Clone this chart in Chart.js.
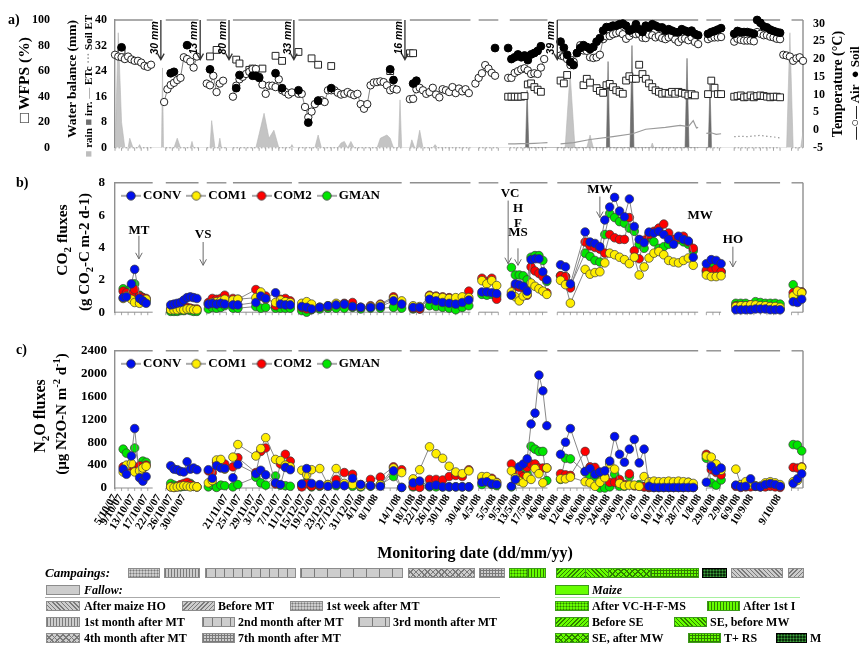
<!DOCTYPE html>
<html>
<head>
<meta charset="utf-8">
<title>WFPS, temperature, CO2 and N2O fluxes</title>
<script src="https://cdn.jsdelivr.net/npm/chart.js@4.4.1/dist/chart.umd.min.js"></script>
<style>
  body { margin: 0; background: #fff; }
  #fig { position: relative; width: 860px; height: 646px; overflow: hidden;
         font-family: 'Liberation Serif', 'Times New Roman', serif; font-weight: bold; color: #000; }
  #fig canvas { position: absolute; left: 0; }
  .t { position: absolute; white-space: nowrap; line-height: 1; }
  .r { transform: translate(-50%, -50%) rotate(-90deg); }
  .t sub, .t sup { font-size: 70%; line-height: 0; }
  .sw { position: absolute; height: 10px; box-sizing: border-box; border: 1px solid #8c8c8c; }
  .lg { position: absolute; font-size: 12px; line-height: 12px; white-space: nowrap; }
  .gr { background-color: #cdcdcd; --p: #7a7a7a; }
  .mz { background-color: #66ff00; border-color: #3c9a1a; --p: #2f7f00; }
  .mk { background-color: #0b2e0b; border-color: #000; --p: #3fa33f; }
  .dots { background-image: radial-gradient(circle, var(--p) 0.8px, transparent 1.2px); background-size: 3px 3px; }
  .vl  { background-image: repeating-linear-gradient(90deg, var(--p) 0 1px, transparent 1px 3px); }
  .v9  { background-image: repeating-linear-gradient(90deg, var(--p) 0 1px, transparent 1px 9px); }
  .v13 { background-image: repeating-linear-gradient(90deg, var(--p) 0 1px, transparent 1px 13px); }
  .xx  { background-image: repeating-linear-gradient(45deg, var(--p) 0 1px, transparent 1px 4px),
                           repeating-linear-gradient(-45deg, var(--p) 0 1px, transparent 1px 4px); }
  .gd  { background-image: repeating-linear-gradient(90deg, var(--p) 0 1px, transparent 1px 3px),
                           repeating-linear-gradient(0deg, var(--p) 0 1px, transparent 1px 3px); }
  .bk  { background-image: repeating-linear-gradient(45deg, var(--p) 0 1px, transparent 1px 3px); }
  .fw  { background-image: repeating-linear-gradient(-45deg, var(--p) 0 1px, transparent 1px 3px); }
</style>
</head>
<body>
<div id="fig">
  <canvas id="chartA" width="860" height="165" style="top:0"></canvas>
  <canvas id="chartB" width="860" height="165" style="top:165px"></canvas>
  <canvas id="chartC" width="860" height="240" style="top:335px"></canvas>

  <!-- panel letters and axis titles -->
  <div class="t" style="left:8px;top:13px;font-size:14px">a)</div>
  <div class="t" style="left:16px;top:176px;font-size:14px">b)</div>
  <div class="t" style="left:16px;top:343px;font-size:14px">c)</div>

  <div class="t r" style="left:24px;top:80px;font-size:15.5px">□ WFPS (%)</div>
  <div class="t r" style="left:72px;top:79px;font-size:13.5px">Water balance (mm)</div>
  <div class="t r" style="left:88px;top:86px;font-size:11px"><span style="color:#bdbdbd">■</span> rain <span style="color:#6f6f6f">■</span> irr. <span style="color:#999">—</span> ETc <span style="color:#999">···</span> Soil ET</div>
  <div class="t r" style="left:838px;top:84px;font-size:14px">Temperature (°C)</div>
  <div class="t r" style="left:854px;top:93px;font-size:13px">—○— Air &nbsp;● Soil</div>

  <div class="t r" style="left:62px;top:240px;font-size:15.5px">CO<sub>2</sub> fluxes</div>
  <div class="t r" style="left:84px;top:252px;font-size:15px">(g CO<sub>2</sub>-C m-2 d-1)</div>
  <div class="t r" style="left:40px;top:416px;font-size:16px">N<sub>2</sub>O fluxes</div>
  <div class="t r" style="left:61px;top:414px;font-size:15px">(µg N2O-N m<sup>-2</sup> d<sup>-1</sup>)</div>

  <div class="t" style="left:475px;top:553px;font-size:16px;transform:translate(-50%,-50%)">Monitoring date (dd/mm/yy)</div>

  <!-- campaigns bar -->
  <div class="lg" style="left:45px;top:567px;font-size:13px;font-style:italic">Campaings:</div>
  <div class="sw gr dots" style="left:128px;top:568px;width:32px"></div>
  <div class="sw gr vl"   style="left:164px;top:568px;width:36px"></div>
  <div class="sw gr v9"   style="left:205px;top:568px;width:91px"></div>
  <div class="sw gr v13"  style="left:300px;top:568px;width:103px"></div>
  <div class="sw gr xx"   style="left:408px;top:568px;width:67px"></div>
  <div class="sw gr gd"   style="left:479px;top:568px;width:26px"></div>
  <div class="sw mz dots" style="left:509px;top:568px;width:19px"></div>
  <div class="sw mz vl"   style="left:527px;top:568px;width:19px"></div>
  <div class="sw mz fw"   style="left:556px;top:568px;width:30px"></div>
  <div class="sw mz bk"   style="left:585px;top:568px;width:24px"></div>
  <div class="sw mz xx"   style="left:608px;top:568px;width:43px"></div>
  <div class="sw mz gd"   style="left:650px;top:568px;width:49px"></div>
  <div class="sw mk dots" style="left:702px;top:568px;width:25px"></div>
  <div class="sw gr bk"   style="left:731px;top:568px;width:52px"></div>
  <div class="sw gr fw"   style="left:788px;top:568px;width:16px"></div>

  <!-- key -->
  <div class="sw gr" style="left:46px;top:585px;width:34px"></div>
  <div class="lg" style="left:84px;top:584px;font-style:italic">Fallow:</div>
  <div style="position:absolute;left:45px;top:597px;width:455px;height:1px;background:#aaa"></div>
  <div class="sw mz" style="left:555px;top:585px;width:34px"></div>
  <div class="lg" style="left:592px;top:584px;font-style:italic">Maize</div>
  <div style="position:absolute;left:555px;top:597px;width:245px;height:1px;background:#a8f0a0"></div>

  <div class="sw gr bk"   style="left:46px;top:601px;width:34px"></div><div class="lg" style="left:84px;top:600px">After maize HO</div>
  <div class="sw gr fw"   style="left:182px;top:601px;width:33px"></div><div class="lg" style="left:218px;top:600px">Before MT</div>
  <div class="sw gr dots" style="left:290px;top:601px;width:33px"></div><div class="lg" style="left:326px;top:600px">1st week after MT</div>
  <div class="sw mz dots" style="left:555px;top:601px;width:34px"></div><div class="lg" style="left:592px;top:600px">After VC-H-F-MS</div>
  <div class="sw mz vl"   style="left:707px;top:601px;width:33px"></div><div class="lg" style="left:743px;top:600px">After 1st I</div>

  <div class="sw gr vl"   style="left:46px;top:617px;width:34px"></div><div class="lg" style="left:84px;top:616px">1st month after MT</div>
  <div class="sw gr v9"   style="left:202px;top:617px;width:33px"></div><div class="lg" style="left:238px;top:616px">2nd month after MT</div>
  <div class="sw gr v13"  style="left:358px;top:617px;width:32px"></div><div class="lg" style="left:393px;top:616px">3rd month after MT</div>
  <div class="sw mz fw"   style="left:555px;top:617px;width:34px"></div><div class="lg" style="left:592px;top:616px">Before SE</div>
  <div class="sw mz bk"   style="left:674px;top:617px;width:33px"></div><div class="lg" style="left:710px;top:616px">SE, before MW</div>

  <div class="sw gr xx"   style="left:46px;top:633px;width:34px"></div><div class="lg" style="left:84px;top:632px">4th month after MT</div>
  <div class="sw gr gd"   style="left:202px;top:633px;width:33px"></div><div class="lg" style="left:238px;top:632px">7th month after MT</div>
  <div class="sw mz xx"   style="left:555px;top:633px;width:34px"></div><div class="lg" style="left:592px;top:632px">SE, after MW</div>
  <div class="sw mz gd"   style="left:688px;top:633px;width:33px"></div><div class="lg" style="left:724px;top:632px">T+ RS</div>
  <div class="sw mk dots" style="left:776px;top:633px;width:31px"></div><div class="lg" style="left:810px;top:632px">M</div>
</div>

<script>
/* frame segments of the broken time axis (day slots) */
const segs = [[0,11.5],[15.5,25.5],[28,34],[36,54],[56,87.5],[90,108.5],[111,117],[120.5,132],[135,178],[180.5,185],[189,203],[206.5,210]];

/* date tick labels */
const dateLabels = ['5/10/07','9/10/07','13/10/07','17/10/07','22/10/07','26/10/07','30/10/07',
  '21/11/07','25/11/07','29/11/07','3/12/07','7/12/07','11/12/07','15/12/07','19/12/07','23/12/07','27/12/07','31/12/07','4/1/08','8/1/08',
  '14/1/08','18/1/08','22/1/08','26/1/08','30/1/08',
  '30/4/08','4/5/08','5/5/08','9/5/08','13/5/08','17/5/08','4/6/08','8/6/08','12/6/08','16/6/08','20/6/08','24/6/08','28/6/08',
  '2/7/08','6/7/08','10/7/08','14/7/08','28/7/08','1/8/08','29/8/08','2/9/08','6/9/08','10/9/08','9/10/08'];
const dateX = [0,1.8,5.5,9.5,13.4,17.1,21,
  33.9,37.9,42.1,45.5,49.8,53.7,57.4,60.7,65,68.4,72.6,75.7,79.7,
  86.7,91,94.3,98,101.6,
  107.1,111.1,115.7,119.4,123,127,130.6,134.6,138.6,142.9,146.8,150.5,154.5,
  158.4,162.7,166.7,170.3,174.3,178.3,182.5,186.5,190.2,194.2,202.7];
const tempTicks = [-5, 0, 5, 10, 15, 20, 25, 30];

/* ---- panel a: daily series, one array per axis segment ---- */
const daySegStart = [0, 15, 28, 36, 56, 90, 110, 120, 136, 181, 189, 204];
const airTemp = [
  [21.2,20.7,20.5,20.0,20.7,19.9,19.5,19.5,19.0,18.1,17.8,18.4],
  [7.9,11.5,12.7,13.3,14.1,14.7,20.5,20.0,19.3,17.6,20.7],
  [13.1,12.6,15.3,10.7,13.1,13.9],
  [9.4,12.5,14.3,15.0,15.8,16.4,17.2,17.2,15.0,12.8,10.2,12.5,12.5,12.1,14.3,11.2,10.7,10.0,10.6],
  [10.2,10.2,6.5,3.6,5.2,7.3,8.4,8.4,7.9,11.2,11.2,11.2,10.5,10.0,10.2,10.7,10.2,9.8,10.2,7.3,6.0,7.3,12.6,13.4,13.5,13.7,13.5,12.6,11.2,11.7,11.4],
  [8.7,8.8,11.5,11.9,11.2,10.2,10.7,11.9,10.0,9.2,11.5,11.2,10.7,12.1,10.4,11.7,10.9,11.5,10.4],
  [13.1,14.7,16.0,18.3,17.3,16.1,15.3],
  [14.7,14.7,16.1,16.6,17.1,17.4,16.8,15.8,16.0,15.8,17.6,20.0],
  [21.0,20.7,20.0,18.3,19.2,21.7,23.9,22.4,22.3,20.5,20.3,20.5,21.2,25.6,26.4,26.5,27.0,27.3,27.6,27.0,25.7,26.5,27.3,27.0,27.1,26.0,25.9,26.9,26.7,26.1,26.5,25.9,25.6,26.1,26.5,25.5,24.8,25.7,25.8,25.3,26.1,24.8,24.2],
  [25.6,26.0,26.1,26.1,26.2],
  [24.9,25.7,25.4,25.2,25.2,25.2,25.0,27.6,27.1,26.7,26.7,26.3,26.1,25.7,25.6],
  [21.2,21.0,20.7,19.5,20.2,20.5,19.5]
];
const soilTemp = [
  [null,null,23.3],
  [null,null,16.0,16.4,null,null,null,23.9],
  [null,17.1],
  [null,11.8,15.5,null,null,null,15.3,15.3,14.7,null,null,null,null,16.0,null,11.8],
  [11.2,null,null,2.1,null,null,8.2,null,null,null,11.8,null,null,null,null,null,null,null,null,null,null,null,null,null,null,null,null,null,17.1,14.1],
  [null,13.1,13.9],
  [null,null,null,null,null,null,23.1],
  [23.1,20.0,20.5,21.3,20.5,21.0,19.7,21.3,21.7,22.3,23.6],
  [24.9,23.2,21.2,19.2,18.3,21.7,23.1,23.9,23.4,22.8,23.4,24.9,25.9,28.0,29.0,29.0,29.4,29.4,29.8,30.0,29.4,28.0,28.4,29.8,28.4,27.6,29.4,28.9,29.8,29.4,28.9,28.9,28.0,28.4,28.0,27.6,27.6,28.4,28.0,27.6,28.0,27.1,26.7],
  [27.1,27.6,27.9,28.3,28.7],
  [27.1,27.9,27.6,27.6,27.6,27.4,27.1,31.0,30.2,29.2,28.9,28.3,27.9,27.6,27.4],
  []
];
const wfps = [
  [null,null,76],
  [],
  [null,71.5,null,76.6],
  [null,69,66,null,null,61,62,null,null,62,null,null,null,72,null,68],
  [75,null,null,null,70,null,65,null,null,null,64,null,null,null,null,null,null,null,null,null,null,null,null,null,null,null,null,null,60],
  [74,74],
  [],
  [40,40,40,40,40,40.5,49.6,50.4,47.5,45.5,43.8],
  [52.6,50.4,57,68.6,null,null,null,49,54,51,null,46.7,44.5,43,49,50,47.5,45,43.8,42.3,52.6,56,54,54,65,57.7,54,50.4,47.5,45,43.8,42.3,43,42.3,43.8,42.3,43.8,43,42.3,41,42,41],
  [42,52.6,47,42,42],
  [40,40.5,41,39.5,40,41,39.5,40.5,41,40.5,40,39.5,40,40,39.5],
  []
];

/* water balance (mm) */
const rainDay = [0,1,2,3, 4,4.5,5.5, 7,7.5,8, 14.2,14.5,14.8, 18,19,20, 23,23.5,24, 29,29.5,30.5, 31.5,32,32.5,
  43,45.5,47,48.5,50, 53.5,54,54.5, 61,62,63, 68,69,70,71,72,73, 80,81,82,83,84,85, 86.5,87,87.5,
  90,90.6,91.5,92,93,94, 97,97.7,98.4, 137.4,138.9,140.4, 144,145,146, 163.5,164,164.5, 205,206,207, 209.3,210];
const rainMM = [0,36,8,0, 0,3,0, 0,1,0, 0,25,0, 0,3,0, 0,2,0, 0,8.5,0, 0,3,0,
  0,10.8,3,5.5,0, 0,1,0, 0,4,0, 0,1.5,2,0,2,0, 0,3,3.5,4,3,0, 0,15,0,
  0,2.5,0,0,5.5,0, 0,1,0, 0,23.4,0, 0,4,0, 0,1.5,0, 0,36,0, 0,5];
const irrDay = [125.3,125.8,126.3, 150,150.5,151, 157.2,157.8,158.4, 174,174.6,175.2, 181.1,181.6,182.1];
const irrMM  = [0,18,0, 0,27,0, 0,32,0, 0,28,0, 0,20,0];
const etcDay = [120,122,124,126,128,130,132,134, 136,140,145,152,158,162,168,172.5,175,176.5,177.5,178, 179, 180.5,182,183.5,185];
const etcMM  = [1.2,1.2,1.3,1.3,1.4,1.5,1.6,null, 1.2,1.6,2.6,3.5,4.4,5.8,6.4,7.0,6.6,8.5,6.2,6.4, null, 4.5,4.7,4.2,4.4];
const soilEtDay = [189,191,193,195,197,199,201,203];
const soilEtMM  = [3.5,3.6,3.5,3.7,3.9,3.6,3.4,3.1];

/* irrigation amounts annotated at the top of panel a */
const irrTagText = ['30 mm','13 mm','80 mm','33 mm','16 mm','39 mm'];
const irrTagX = [14, 26, 34.8, 54.6, 88.5, 135];

/* ---- panels b and c: sampling occasions ---- */
const sampleX = [
  2.5,3.5,5,6,7.5,8.5,9.5,
  17,18,19,20,21,22,23,24,25,
  28.5,29.7,31,32.3,33.5,
  36,37.5,43,44.5,46,49,50.5,52,53.5,
  57,58.5,60,62.5,65,67.5,70,72.5,75,78,81,85,87.5,
  91,93,96,98,100,102,104,106,108,
  112,113.5,115,116.5,
  121,122.2,123.4,124.6,125.8,127,128.2,129.4,130.6,131.8,
  136,137.5,139,143.5,145,146.5,148,149.5,151,152.5,154,155.5,157,158.5,160,161.5,163,164.5,166,167.5,169,170.5,172,173.5,175,176.5,
  180.5,182,183.5,185,
  189.5,191,192.5,194,195.5,197,198.5,200,201.5,203,
  207,208.3,209.6];

const co2Conv = [
  0.9,0.95,1.75,2.65,0.85,0.7,0.55,
  0.45,0.5,0.55,0.6,0.75,0.9,0.95,0.9,0.85,
  0.5,0.55,0.5,0.55,0.5,
  0.45,0.45,0.6,1.0,0.85,1.2,0.5,0.45,0.45,
  0.35,0.3,0.2,0.3,0.4,0.45,0.5,0.35,0.3,0.3,0.35,0.7,0.5,
  0.3,0.3,0.8,0.7,0.6,0.55,0.5,0.6,0.75,
  1.25,1.25,1.2,1.15,
  1.05,1.75,1.7,1.6,1.3,3.25,3.3,3.3,2.5,2.0,
  2.93,2.8,1.75,4.96,4.34,4.25,4.05,5.7,6.5,7.1,6.25,5.9,7.0,5.3,4.5,4.3,4.95,4.9,5.0,4.8,4.5,4.2,4.7,4.5,4.4,3.4,
  3.0,3.25,3.2,3.0,
  0.15,0.15,0.15,0.15,0.2,0.2,0.2,0.15,0.15,0.15,
  0.65,0.6,0.8];
const co2Com1 = [
  0.85,1.0,0.8,0.6,0.55,0.7,0.8,
  0.15,0.15,0.15,0.2,0.15,0.2,0.2,0.15,0.15,
  0.5,0.6,0.65,0.7,0.8,
  0.75,0.8,0.9,1.25,0.8,0.6,0.75,0.65,0.6,
  0.55,0.65,0.5,0.3,0.4,0.55,0.5,0.35,0.3,0.35,0.45,0.85,0.7,
  0.4,0.35,1.0,0.95,0.9,0.85,0.9,0.95,0.9,
  1.95,1.75,1.95,1.65,
  1.25,0.95,0.7,1.0,1.1,1.8,1.6,1.45,1.3,1.1,
  1.97,1.7,0.56,2.65,2.35,2.45,2.5,3.05,3.65,3.55,3.4,3.25,3.0,3.4,2.3,2.8,3.35,3.65,3.75,3.55,3.2,3.1,3.05,3.2,3.35,2.9,
  2.3,2.2,2.2,2.25,
  0.35,0.4,0.4,0.45,0.45,0.4,0.4,0.35,0.35,0.3,
  1.0,1.3,1.2];
const co2Com2 = [
  1.3,1.2,1.1,1.4,1.0,0.9,0.85,
  0.2,0.25,0.2,0.25,0.3,0.3,0.25,0.2,0.2,
  0.6,0.85,0.8,0.85,1.05,
  0.85,0.8,1.4,1.0,1.0,0.4,0.8,0.85,0.7,
  0.3,0.2,0.2,0.3,0.35,0.5,0.55,0.6,0.3,0.4,0.5,0.95,0.55,
  0.25,0.2,1.05,1.0,0.95,0.9,0.75,0.9,1.3,
  2.1,1.9,2.1,0.8,
  1.1,1.6,1.55,1.5,1.05,2.8,2.55,2.4,2.2,1.2,
  2.25,2.2,1.5,4.34,4.1,4.0,3.9,3.65,4.8,4.6,4.5,4.5,5.85,3.8,3.3,4.45,4.8,5.0,5.2,5.45,4.9,4.5,4.6,4.7,4.35,3.95,
  2.6,2.55,2.7,2.5,
  0.4,0.4,0.4,0.45,0.4,0.35,0.35,0.3,0.25,0.2,
  1.2,1.3,1.25];
const co2Gman = [
  1.45,1.3,1.55,1.75,1.05,0.9,0.7,
  0.05,0.05,0.05,0.1,0.1,0.15,0.1,0.05,0.05,
  0.2,0.3,0.25,0.3,0.4,
  0.25,0.25,0.35,0.25,0.3,0.25,0.25,0.25,0.25,
  0.1,0.0,0.15,0.2,0.25,0.25,0.25,0.3,0.2,0.25,0.25,0.3,0.25,
  0.2,0.2,0.4,0.35,0.3,0.25,0.15,0.3,0.4,
  1.1,1.05,1.1,1.0,
  2.76,2.3,2.3,2.25,2.0,3.4,3.5,3.5,3.2,1.9,
  2.25,2.2,1.6,3.65,3.45,3.2,3.1,4.8,6.1,5.85,5.6,5.5,5.2,5.0,4.2,3.95,4.6,4.35,3.95,4.05,4.2,4.4,4.5,4.35,4.2,3.8,
  2.5,2.8,2.55,2.5,
  0.55,0.55,0.55,0.45,0.65,0.6,0.55,0.55,0.55,0.5,
  1.7,1.1,1.25];

const n2oConv = [
  330,240,560,1040,180,120,200,
  390,330,320,290,280,460,330,350,320,
  320,170,390,350,340,
  180,410,250,310,230,90,60,360,320,
  70,340,80,60,30,60,40,170,60,40,30,300,10,
  90,120,30,50,20,20,20,20,20,
  100,110,70,60,
  30,150,370,420,510,1120,1310,1975,1700,1090,
  590,800,1040,290,340,240,280,300,470,900,590,450,680,850,440,680,30,10,10,10,10,10,10,10,10,10,
  100,380,300,350,
  50,20,30,160,30,20,60,80,60,30,
  80,160,250];
const n2oCom1 = [
  280,400,430,280,300,350,380,
  20,10,20,30,40,30,20,30,20,
  90,130,490,500,330,
  540,760,560,690,880,500,480,400,370,
  310,230,320,340,60,340,80,60,30,40,60,350,270,
  160,320,720,600,520,380,280,250,300,
  200,200,150,90,
  300,180,120,90,200,150,340,250,90,350,
  160,160,190,110,90,30,100,180,420,330,80,40,50,50,30,200,110,120,110,110,120,110,120,110,100,80,
  560,540,420,310,
  330,60,110,60,40,30,90,110,90,60,
  110,130,360];
const n2oCom2 = [
  370,380,380,360,390,340,400,
  20,10,20,60,80,100,60,30,20,
  300,270,450,460,420,
  370,530,270,640,700,70,420,590,470,
  20,80,30,40,60,150,270,240,60,150,190,370,320,
  30,10,150,150,140,200,220,200,320,
  170,110,170,100,
  420,300,250,200,360,420,420,350,350,350,
  250,230,220,640,370,360,270,200,100,100,150,60,250,40,30,20,10,10,10,10,10,10,10,10,10,10,
  590,320,270,230,
  30,10,20,20,30,20,20,30,20,10,
  360,350,370];
const n2oGman = [
  680,610,380,700,360,470,450,
  80,50,30,20,30,50,80,30,20,
  20,60,10,50,40,
  20,60,190,90,50,210,50,40,30,
  60,100,20,30,40,40,50,30,20,30,60,200,10,
  20,60,20,20,20,20,20,20,20,
  60,130,60,40,
  20,250,150,300,250,730,680,640,640,130,
  150,520,510,280,200,200,0,0,20,240,30,30,200,40,60,20,10,10,10,10,10,10,10,10,100,10,
  520,90,50,140,
  40,50,60,40,30,30,30,40,50,40,
  760,750,650];

/* management events annotated in panel b */
const co2TagText = ['MT','VS','VC','H','F','MS','MW','MW','HO'];
const co2TagX = [7.3, 26.9, 120.6, 123, 123, 123, 148, 178.6, 188.6];
const co2TagY = [5.07, 4.8, 7.3, 6.4, 5.45, 4.9, 7.55, 6.0, 4.5];
const co2ArrowX = [7.3, 26.9, 120, 123, 148, 188.6];
const co2ArrowFrom = [4.73, 4.34, 6.9, 3.95, 7.15, 4.05];
const co2ArrowTo = [3.3, 2.9, 3.0, 2.9, 5.85, 2.8];

const treatNames = ['CONV', 'COM1', 'COM2', 'GMAN'];
const treatColors = ['#0010ee', '#ffee00', '#ff0000', '#00e600'];

/* ---- helpers ---- */
Chart.defaults.font.family = "'Liberation Serif', 'Times New Roman', serif";
Chart.defaults.font.weight = 'bold';
Chart.defaults.font.size = 12;
Chart.defaults.color = '#000';
Chart.defaults.animation = false;

function segOf(x) { return segs.findIndex(s => x >= s[0] - 0.8 && x <= s[1] + 0.8); }

function fluxPts(vals) {
    const pts = [];
    sampleX.forEach((x, i) => {
        if (i && segOf(x) !== segOf(sampleX[i - 1])) pts.push({x: x - 0.1, y: null});
        pts.push({x: x, y: vals[i]});
    });
    return pts;
}

function dayPts(perSeg) {
    const pts = [];
    perSeg.forEach((vals, k) => {
        if (k) pts.push({x: daySegStart[k] - 0.5, y: null});
        vals.forEach((v, i) => pts.push({x: daySegStart[k] + i, y: v}));
    });
    return pts;
}

function zip(xs, ys) { return xs.map((x, i) => ({x: x, y: ys[i]})); }

function legendIcon(color) {
    const c = document.createElement('canvas');
    c.width = 20; c.height = 12;
    const g = c.getContext('2d');
    g.strokeStyle = '#555'; g.lineWidth = 1;
    g.beginPath(); g.moveTo(0, 6); g.lineTo(20, 6); g.stroke();
    g.beginPath(); g.arc(10, 6, 4.3, 0, Math.PI * 2);
    g.fillStyle = color; g.fill();
    g.strokeStyle = '#333'; g.lineWidth = 0.8; g.stroke();
    return c;
}
const icons = treatColors.map(legendIcon);

const framePlugin = {
    id: 'frame',
    beforeDatasetsDraw(chart, args, o) {
        const {ctx, chartArea: a} = chart;
        const x = chart.scales.x;
        ctx.save();
        ctx.strokeStyle = '#8f8f8f';
        segs.forEach(s => {
            const x1 = x.getPixelForValue(s[0]), x2 = x.getPixelForValue(s[1]);
            ctx.lineWidth = 1.4;
            ctx.setLineDash([]);
            ctx.beginPath(); ctx.moveTo(x1, a.top); ctx.lineTo(x2, a.top); ctx.stroke();
            if (o.dotted) ctx.setLineDash([1.5, 2]);
            ctx.lineWidth = 1;
            ctx.beginPath(); ctx.moveTo(x1, a.bottom); ctx.lineTo(x2, a.bottom); ctx.stroke();
            ctx.setLineDash([]);
            ctx.lineWidth = 0.8;
            for (let v = s[0]; v <= s[1] + 0.01; v += 2) {
                const p = x.getPixelForValue(v);
                ctx.beginPath(); ctx.moveTo(p, a.bottom); ctx.lineTo(p, a.bottom + 3); ctx.stroke();
            }
        });
        if (o.right) {
            ctx.lineWidth = 1.4;
            ctx.beginPath(); ctx.moveTo(a.right, a.top); ctx.lineTo(a.right, a.bottom); ctx.stroke();
        }
        ctx.restore();
    }
};

const notesPlugin = {
    id: 'notes',
    afterDatasetsDraw(chart, args, o) {
        const {ctx} = chart;
        const x = chart.scales.x, y = chart.scales[o.axis];
        ctx.save();
        ctx.strokeStyle = o.color;
        ctx.lineWidth = o.lineWidth;
        o.arrows.forEach(a => {
            const px = x.getPixelForValue(a[0]), p1 = y.getPixelForValue(a[1]), p2 = y.getPixelForValue(a[2]);
            ctx.beginPath();
            ctx.moveTo(px, p1); ctx.lineTo(px, p2);
            ctx.moveTo(px - o.head * 0.55, p2 - o.head); ctx.lineTo(px, p2); ctx.lineTo(px + o.head * 0.55, p2 - o.head);
            ctx.stroke();
        });
        ctx.fillStyle = '#000';
        ctx.font = o.font;
        o.labels.forEach(t => {
            const px = x.getPixelForValue(t[1]) + o.dx, py = y.getPixelForValue(t[2]);
            ctx.save();
            ctx.translate(px, py);
            if (o.vertical) { ctx.rotate(-Math.PI / 2); ctx.textAlign = 'right'; }
            else ctx.textAlign = 'center';
            ctx.textBaseline = 'middle';
            ctx.fillText(t[0], 0, 0);
            ctx.restore();
        });
        ctx.restore();
    }
};

/* horizontal key drawn inside the top-left of the plot area */
const keyPlugin = {
    id: 'key',
    afterDraw(chart) {
        const {ctx, chartArea: a} = chart;
        ctx.save();
        ctx.font = "bold 13px 'Liberation Serif', serif";
        ctx.textBaseline = 'middle';
        ctx.fillStyle = '#000';
        let x = a.left + 6;
        const y = a.top + 13;
        chart.data.datasets.forEach((d, i) => {
            ctx.drawImage(icons[i], x, y - 6);
            x += 22;
            ctx.fillText(d.label, x, y);
            x += ctx.measureText(d.label).width + 5;
        });
        ctx.restore();
    }
};

const xHidden = {type: 'linear', min: 0, max: 210, display: false};

function fluxSet(i, vals) {
    return {
        label: treatNames[i], data: fluxPts(vals),
        borderColor: '#7a7a7a', borderWidth: 0.9,
        pointBackgroundColor: treatColors[i], pointBorderColor: '#3a3a3a', pointBorderWidth: 0.7,
        pointRadius: 4.3, tension: 0, spanGaps: false, clip: 10
    };
}

/* ---- panel a ---- */
new Chart(document.getElementById('chartA'), {
    type: 'line',
    data: {
        datasets: [
            {label: 'rain', data: zip(rainDay, rainMM), yAxisID: 'wb', fill: 'origin',
             backgroundColor: '#c4c4c4', borderColor: '#b5b5b5', borderWidth: 0.6, pointRadius: 0, order: 10},
            {label: 'irr.', data: zip(irrDay, irrMM), yAxisID: 'wb', fill: 'origin',
             backgroundColor: '#6f6f6f', borderColor: '#666', borderWidth: 0.6, pointRadius: 0, order: 9},
            {label: 'ETc', data: zip(etcDay, etcMM), yAxisID: 'wb', borderColor: '#9a9a9a',
             borderWidth: 1.2, pointRadius: 0, spanGaps: false, order: 8},
            {label: 'Soil ET', data: zip(soilEtDay, soilEtMM), yAxisID: 'wb', borderColor: '#9a9a9a',
             borderWidth: 1.2, borderDash: [1.5, 2.5], pointRadius: 0, order: 8},
            {label: 'WFPS', data: dayPts(wfps), yAxisID: 'wfps', showLine: false, pointStyle: 'rect',
             pointRadius: 4.8, pointBackgroundColor: '#fff', pointBorderColor: '#222', pointBorderWidth: 1, clip: 8, order: 3},
            {label: 'Air', data: dayPts(airTemp), yAxisID: 'temp', borderColor: '#666', borderWidth: 0.8,
             pointRadius: 3.7, pointBackgroundColor: '#fff', pointBorderColor: '#222', pointBorderWidth: 1,
             spanGaps: false, clip: 8, order: 2},
            {label: 'Soil', data: dayPts(soilTemp), yAxisID: 'temp', showLine: false,
             pointRadius: 3.9, pointBackgroundColor: '#000', pointBorderColor: '#000', clip: 8, order: 1}
        ]
    },
    options: {
        responsive: false,
        layout: {padding: {top: 20, bottom: 8, left: 0, right: 0}},
        plugins: {
            legend: {display: false}, tooltip: {enabled: false},
            frame: {right: true, dotted: true},
            notes: {
                axis: 'wfps', color: '#333', lineWidth: 1.3, head: 6, dx: -6, vertical: true,
                font: "italic bold 10.5px 'Liberation Sans', sans-serif",
                arrows: irrTagX.map(v => [v, 100, 69]),
                labels: irrTagText.map((t, i) => [t, irrTagX[i], 99])
            }
        },
        scales: {
            x: xHidden,
            wfps: {position: 'left', weight: 1, min: 0, max: 100,
                   ticks: {stepSize: 20, padding: 3, font: {size: 12}},
                   grid: {display: false, drawTicks: false}, border: {display: false},
                   afterFit: s => { s.width = 53; }},
            wb: {position: 'left', weight: 0, min: 0, max: 40,
                 ticks: {stepSize: 8, padding: 8, font: {size: 12}},
                 grid: {display: false, drawTicks: false}, border: {display: true, color: '#8f8f8f', width: 1.4},
                 afterFit: s => { s.width = 62; }},
            temp: {position: 'right', min: -5, max: 31,
                   ticks: {padding: 10, font: {size: 12}},
                   afterBuildTicks: s => { s.ticks = tempTicks.map(v => ({value: v})); },
                   grid: {display: false, drawTicks: false}, border: {display: false},
                   afterFit: s => { s.width = 57; }}
        }
    },
    plugins: [framePlugin, notesPlugin]
});

/* ---- panel b ---- */
new Chart(document.getElementById('chartB'), {
    type: 'line',
    data: {datasets: [fluxSet(0, co2Conv), fluxSet(1, co2Com1), fluxSet(2, co2Com2), fluxSet(3, co2Gman)]},
    options: {
        responsive: false,
        layout: {padding: {top: 15, bottom: 8, left: 0, right: 57}},
        plugins: {
            legend: {display: false}, tooltip: {enabled: false},
            frame: {right: true, dotted: false},
            notes: {
                axis: 'y', color: '#6a6a6a', lineWidth: 1, head: 6, dx: 0, vertical: false,
                font: "bold 13px 'Liberation Serif', serif",
                arrows: co2ArrowX.map((v, i) => [v, co2ArrowFrom[i], co2ArrowTo[i]]),
                labels: co2TagText.map((t, i) => [t, co2TagX[i], co2TagY[i]])
            }
        },
        scales: {
            x: xHidden,
            y: {min: 0, max: 8, ticks: {stepSize: 2, padding: 10, font: {size: 13}, callback: v => String(v)},
                grid: {display: false, drawTicks: false}, border: {display: true, color: '#8f8f8f', width: 1.4},
                afterFit: s => { s.width = 115; }}
        }
    },
    plugins: [framePlugin, notesPlugin, keyPlugin]
});

/* ---- panel c ---- */
new Chart(document.getElementById('chartC'), {
    type: 'line',
    data: {datasets: [fluxSet(0, n2oConv), fluxSet(1, n2oCom1), fluxSet(2, n2oCom2), fluxSet(3, n2oGman)]},
    options: {
        responsive: false,
        layout: {padding: {top: 12, bottom: 7, left: 0, right: 57}},
        plugins: {
            legend: {display: false}, tooltip: {enabled: false},
            frame: {right: true, dotted: false}
        },
        scales: {
            x: {type: 'linear', min: 0, max: 210,
                grid: {display: false, drawTicks: false}, border: {display: false},
                afterBuildTicks: s => { s.ticks = dateX.map(v => ({value: v})); },
                afterFit: s => { s.height = 80; },
                ticks: {autoSkip: false, minRotation: 58, maxRotation: 58, padding: 4,
                        font: {size: 11}, callback: (v, i) => dateLabels[i]}},
            y: {min: 0, max: 2400, ticks: {stepSize: 400, padding: 8, font: {size: 13}, callback: v => String(v)},
                grid: {display: false, drawTicks: false}, border: {display: true, color: '#8f8f8f', width: 1.4},
                afterFit: s => { s.width = 115; }}
        }
    },
    plugins: [framePlugin, keyPlugin]
});
</script>
</body>
</html>
